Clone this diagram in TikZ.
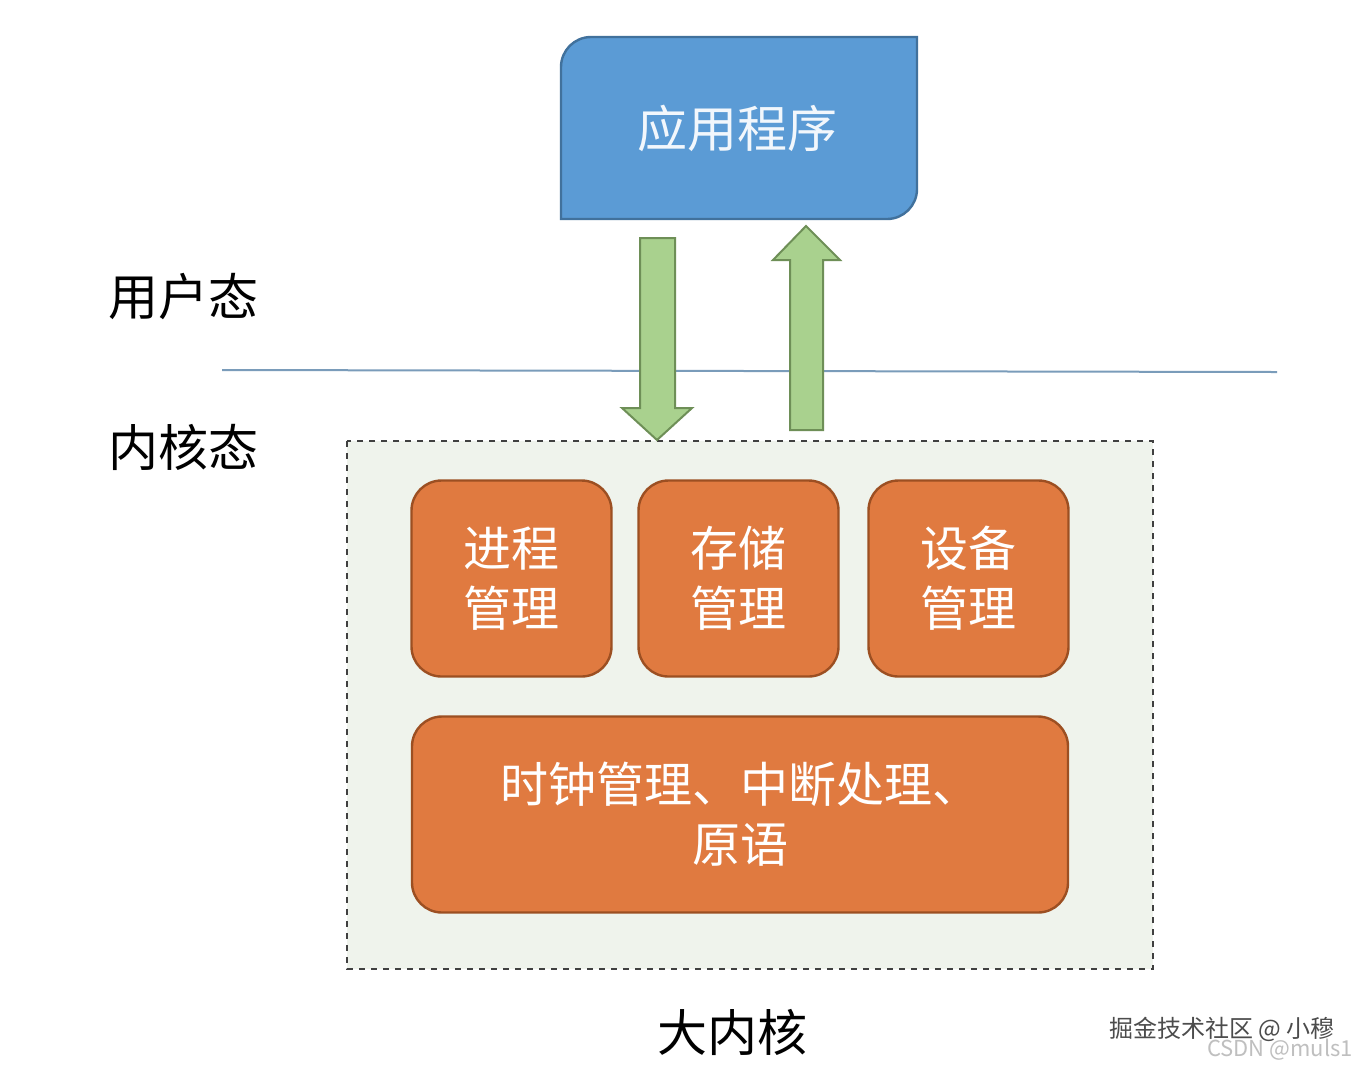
\documentclass[tikz,border=0pt]{standalone}
\usepackage{fontspec}
\setmainfont{Noto Sans CJK SC}
\usetikzlibrary{shapes.geometric}
\definecolor{appblue}{HTML}{5B9BD5}
\definecolor{appedge}{HTML}{41719C}
\definecolor{arrgreen}{HTML}{A9D18E}
\definecolor{arredge}{HTML}{6E8F57}
\definecolor{orng}{HTML}{E07A40}
\definecolor{orngedge}{HTML}{9C4F22}
\definecolor{boxbg}{HTML}{EFF3EC}
\tikzset{
 mod/.style={draw=orngedge,line width=1.2pt,fill=orng,rounded corners=15pt,text=white,align=center,font=\fontsize{24}{30}\selectfont},
 lbl/.style={font=\fontsize{25}{30}\selectfont},
 garrow/.style={draw=arredge,fill=arrgreen,line width=1pt}
}
\begin{document}
\begin{tikzpicture}[x=0.5pt,y=-0.5pt]
\useasboundingbox[fill=white] (0,0) rectangle (1368,1072);
% app box
\draw[fill=appblue,draw=appedge,line width=1.2pt] (561,219) -- (561,67) arc[start angle=180,end angle=270,radius=30] -- (917,37) -- (917,189) arc[start angle=0,end angle=90,radius=30] -- cycle;
\node[lbl,text=white!92!appblue] (app) at (737,128) {应用程序};
\node[lbl] (user) at (183,297) {用户态};
\node[lbl] (kern) at (183,447) {内核态};
\coordinate (la) at (222,370); \coordinate (lb) at (1277,372);
\draw[color=appedge!70,line width=1pt] (la) -- (lb);
% dashed box
\draw[dashed,fill=boxbg,draw=black!75,line width=0.9pt] (347,441) rectangle (1153,969);
% arrows
\draw[garrow] (640,238) -- (675,238) -- (675,408) -- (692,408) -- (657,440) -- (622,408) -- (640,408) -- cycle;
\draw[garrow] (790,430) -- (823,430) -- (823,260) -- (840,260) -- (806,226) -- (773,260) -- (790,260) -- cycle;
% modules
\node[mod,minimum width=100pt,minimum height=98pt] (p) at (511.5,578.5) {进程\\管理};
\node[mod,minimum width=100pt,minimum height=98pt] (m) at (738.5,578.5) {存储\\管理};
\node[mod,minimum width=100pt,minimum height=98pt] (d) at (968.5,578.5) {设备\\管理};
\node[mod,minimum width=328pt,minimum height=98pt] (c) at (740,814.5) {时钟管理、中断处理、\\原语};
\node[lbl] (big) at (732,1032) {大内核};
\node[font=\fontsize{12}{14}\selectfont,text=black!70] (wm) at (1222,1029) {掘金技术社区 @ 小穆};
\node[font=\fontsize{11}{13}\selectfont,text=black!25] (wm2) at (1280,1050) {CSDN @muls1};
\end{tikzpicture}
\end{document}
